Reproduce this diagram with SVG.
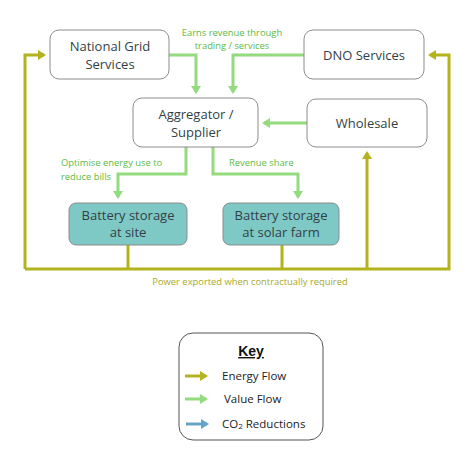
<svg xmlns="http://www.w3.org/2000/svg" width="471" height="457" viewBox="0 0 471 457">
<defs>
<marker id="ae" markerWidth="10" markerHeight="10" refX="6" refY="5" orient="auto" markerUnits="userSpaceOnUse"><path d="M0,0 L8,5 L0,10 Z" fill="#B3B31E"/></marker>
<marker id="av" markerWidth="10" markerHeight="10" refX="6" refY="5" orient="auto" markerUnits="userSpaceOnUse"><path d="M0,0 L8,5 L0,10 Z" fill="#94DA7E"/></marker>
<marker id="ac" markerWidth="10" markerHeight="10" refX="6" refY="5" orient="auto" markerUnits="userSpaceOnUse"><path d="M0,0 L8,5 L0,10 Z" fill="#65A4C4"/></marker>
</defs>
<style>
.box{fill:#fff;stroke:#8c8c8c;stroke-width:1}
.bat{fill:#7EC9C5;stroke:#8c8c8c;stroke-width:1}
.t{font-family:"Open Sans","Noto Sans",sans-serif;font-size:13px;fill:#333F48;text-anchor:middle}
.e{fill:none;stroke:#B3B31E;stroke-width:3}
.v{fill:none;stroke:#94DA7E;stroke-width:3}
.c{fill:none;stroke:#65A4C4;stroke-width:3}
.lg{font-family:"Open Sans","Noto Sans",sans-serif;font-size:9.4px;fill:#5DBB46}
.lo{font-family:"Open Sans","Noto Sans",sans-serif;font-size:9.4px;fill:#A8A82A}
.k{font-family:"Open Sans","Noto Sans",sans-serif;font-size:11.5px;fill:#222}
</style>
<g id="connectors">
<polyline class="e" points="25,269 25,55 44,55" marker-end="url(#ae)"/>
<polyline class="e" points="25,269 449,269 449,55 430,55" marker-end="url(#ae)"/>
<line class="e" x1="128" y1="245" x2="128" y2="269"/>
<line class="e" x1="282" y1="245" x2="282" y2="269"/>
<polyline class="e" points="367,269 367,153" marker-end="url(#ae)"/>
<polyline class="v" points="169,55 196,55 196,92" marker-end="url(#av)"/>
<polyline class="v" points="304,55 233,55 233,92" marker-end="url(#av)"/>
<polyline class="v" points="307,123 264,123" marker-end="url(#av)"/>
<polyline class="v" points="186,147 186,174 118,174 118,197" marker-end="url(#av)"/>
<polyline class="v" points="213,147 213,174 298,174 298,197" marker-end="url(#av)"/>
</g>
<g id="ng"><rect class="box" x="50" y="30" width="119" height="49" rx="9"/><text class="t" x="110" y="51">National Grid</text><text class="t" x="110" y="69">Services</text></g>
<g id="dno"><rect class="box" x="304" y="30" width="120" height="49" rx="9"/><text class="t" x="364" y="60">DNO Services</text></g>
<g id="agg"><rect class="box" x="133" y="98" width="125" height="49" rx="9"/><text class="t" x="196" y="119">Aggregator /</text><text class="t" x="196" y="137">Supplier</text></g>
<g id="wholesale"><rect class="box" x="307" y="99" width="120" height="48" rx="9"/><text class="t" x="367" y="128">Wholesale</text></g>
<g id="bsite"><rect class="bat" x="69" y="203" width="118" height="42" rx="7"/><text class="t" x="128" y="220">Battery storage</text><text class="t" x="128" y="237">at site</text></g>
<g id="bsolar"><rect class="bat" x="223" y="203" width="116" height="42" rx="7"/><text class="t" x="281" y="220">Battery storage</text><text class="t" x="281" y="237">at solar farm</text></g>
<g id="labels">
<text class="lg" x="232" y="36" text-anchor="middle">Earns revenue through</text>
<text class="lg" x="232" y="49" text-anchor="middle">trading / services</text>
<text class="lg" x="61" y="166">Optimise energy use to</text>
<text class="lg" x="61" y="180">reduce bills</text>
<text class="lg" x="229" y="166">Revenue share</text>
<text class="lo" x="250" y="285" text-anchor="middle">Power exported when contractually required</text>
</g>
<g id="key">
<rect x="179" y="333" width="144" height="107" rx="14" fill="#fff" stroke="#555" stroke-width="1"/>
<text x="251" y="356" font-family="'Liberation Sans',Arial,sans-serif" font-size="14" font-weight="bold" text-decoration="underline" fill="#111" text-anchor="middle">Key</text>
<line class="e" x1="185" y1="376" x2="206" y2="376" marker-end="url(#ae)"/>
<line class="v" x1="185" y1="399" x2="206" y2="399" marker-end="url(#av)"/>
<line class="c" x1="186" y1="424" x2="207" y2="424" marker-end="url(#ac)"/>
<text class="k" x="222" y="380">Energy Flow</text>
<text class="k" x="224" y="403">Value Flow</text>
<text class="k" x="222" y="428">CO<tspan font-size="8" dy="1">2</tspan><tspan dy="-1"> Reductions</tspan></text>
</g>
</svg>
